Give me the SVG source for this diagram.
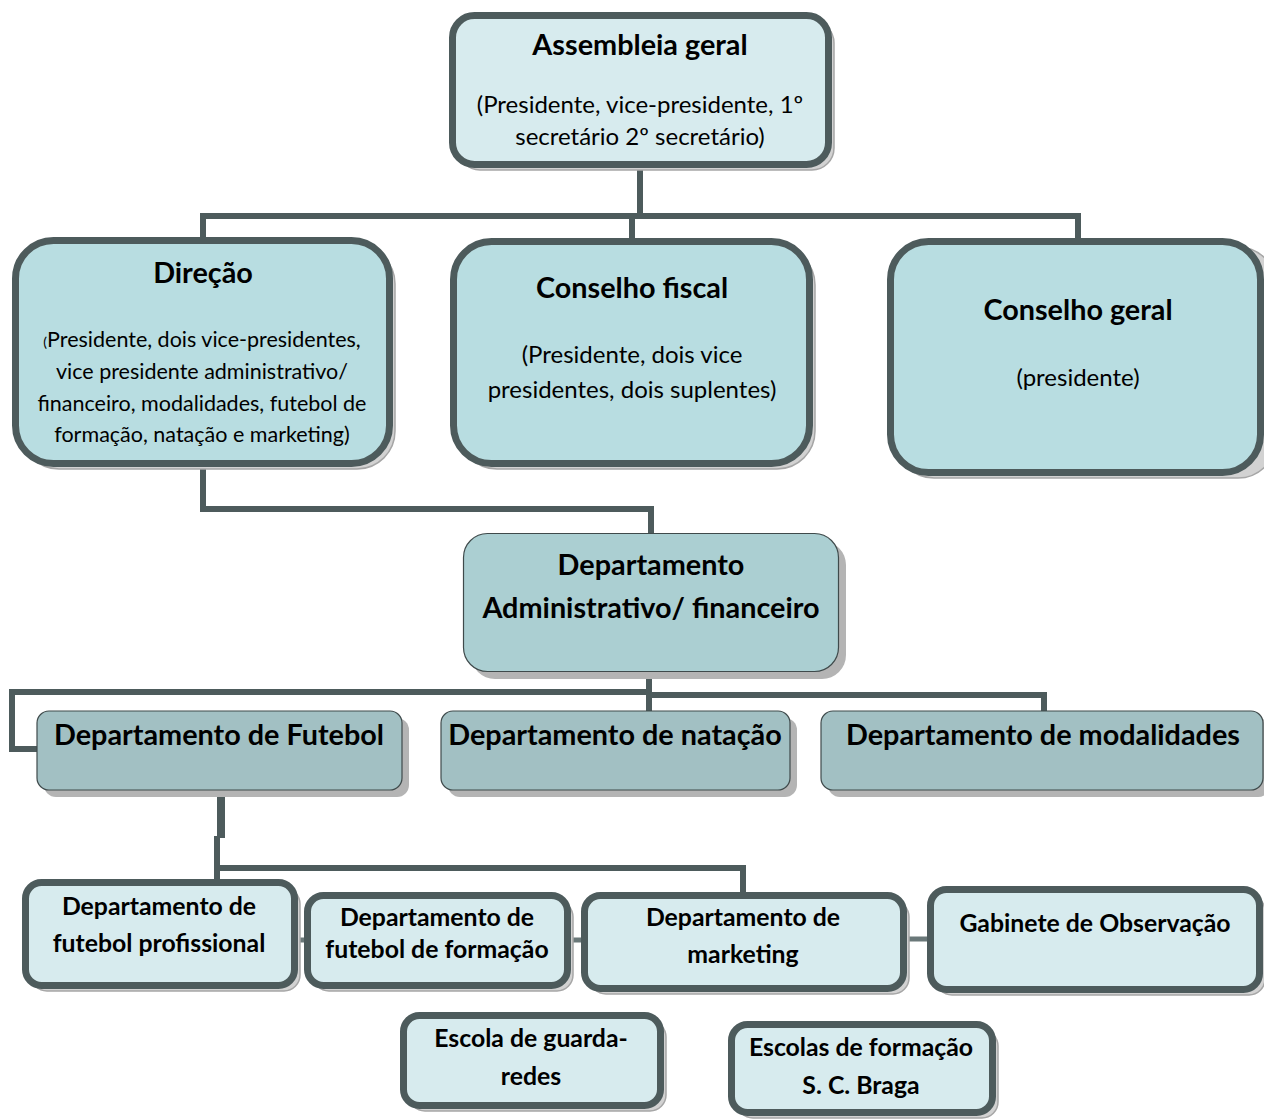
<svg xmlns="http://www.w3.org/2000/svg" width="1264" height="1120" viewBox="0 0 1264 1120">
<style>
text{font-family:Lato,"Liberation Sans",sans-serif;fill:#000;text-anchor:middle}
.t{font-weight:bold;font-size:28.8px}
.s{font-size:24px}
.sd{font-size:21.5px}
.b{font-weight:bold;font-size:24.8px}
.thick{stroke:#4d5b5c;stroke-width:7}
.sh{fill:#d2d2d2;stroke:#a6a6a6;stroke-width:1.5}
.sh2{fill:#b4b4b4;stroke:none}
.lt{fill:#d7ebee}
.md{fill:#b8dde1}
.ad{fill:#abcfd2;stroke:#3f4a4b;stroke-width:1.2}
.dp{fill:#a2c0c3;stroke:#3f4a4b;stroke-width:1.2}
.c{fill:none;stroke:#4d5b5c;stroke-width:6}
.cs{fill:none;stroke:#6a7879;stroke-width:5}
</style>
<rect width="1264" height="1120" fill="#fff"/>
<g id="connectors">
<path class="c" d="M640,168 V216 M203,240 V216 H1078 V240 M632,216 V240"/>
<path class="c" d="M203,467 V509 H651 V533"/>
<path class="c" d="M649,672 V711 M649,692 H12 V749 H37 M649,695 H1044 V711"/>
<path class="c" style="stroke-width:8" d="M221,790 V838"/>
<path class="c" d="M217,836 V880 M217,868 H743 V893"/>
<path class="cs" d="M298,940 H304 M571,940 H581 M907,939 H927"/>
</g>
<g id="assembleia">
<rect class="sh" x="458" y="21" width="376" height="149" rx="22"/>
<rect class="lt thick" x="452.5" y="15.5" width="376" height="149" rx="22"/>
<text class="t" x="640" y="55">Assembleia geral</text>
<text class="s" x="640" y="113">(Presidente, vice-presidente, 1º</text>
<text class="s" x="640" y="145">secretário 2º secretário)</text>
</g>
<g id="direcao">
<rect class="sh" x="21" y="246" width="374" height="223" rx="38"/>
<rect class="md thick" x="15.5" y="240.5" width="374" height="223" rx="38"/>
<text class="t" x="203" y="283">Direção</text>
<text class="sd" x="202" y="347"><tspan font-size="14">(</tspan>Presidente, dois vice-presidentes,</text>
<text class="sd" x="202" y="379">vice presidente administrativo/</text>
<text class="sd" x="202" y="411">financeiro, modalidades, futebol de</text>
<text class="sd" x="202" y="442">formação, natação e marketing)</text>
</g>
<g id="conselho-fiscal">
<rect class="sh" x="459" y="247" width="356" height="222" rx="38"/>
<rect class="md thick" x="453.5" y="241.5" width="356" height="222" rx="38"/>
<text class="t" x="632" y="298">Conselho fiscal</text>
<text class="s" x="632" y="363">(Presidente, dois vice</text>
<text class="s" x="632" y="398">presidentes, dois suplentes)</text>
</g>
<g id="conselho-geral">
<rect class="sh" x="896" y="247" width="380" height="231" rx="38"/>
<rect class="md thick" x="890.5" y="241.5" width="370" height="231" rx="38"/>
<text class="t" x="1078" y="320">Conselho geral</text>
<text class="s" x="1078" y="386">(presidente)</text>
</g>
<g id="dep-admin">
<rect class="sh2" x="471" y="541" width="375" height="138" rx="24"/>
<rect class="ad" x="463.5" y="533.5" width="375" height="138" rx="24"/>
<text class="t" x="651" y="575">Departamento</text>
<text class="t" x="651" y="618">Administrativo/ financeiro</text>
</g>
<g id="dep-futebol">
<rect class="sh2" x="44" y="718" width="365" height="79" rx="12"/>
<rect class="dp" x="37" y="711" width="365" height="79" rx="12"/>
<text class="t" x="219" y="745">Departamento de Futebol</text>
</g>
<g id="dep-natacao">
<rect class="sh2" x="448" y="718" width="349" height="79" rx="12"/>
<rect class="dp" x="441" y="711" width="349" height="79" rx="12"/>
<text class="t" x="615" y="745">Departamento de natação</text>
</g>
<g id="dep-modalidades">
<rect class="sh2" x="828" y="718" width="442" height="79" rx="12"/>
<rect class="dp" x="821" y="711" width="442" height="79" rx="12"/>
<text class="t" x="1043" y="745">Departamento de modalidades</text>
</g>
<g id="futebol-profissional">
<rect class="sh" x="31" y="888" width="269" height="103" rx="16"/>
<rect class="lt thick" x="25.5" y="882.5" width="269" height="103" rx="16"/>
<text class="b" x="159" y="915">Departamento de</text>
<text class="b" x="159" y="952">futebol profissional</text>
</g>
<g id="futebol-formacao">
<rect class="sh" x="313" y="901" width="260" height="90" rx="16"/>
<rect class="lt thick" x="307.5" y="895.5" width="260" height="90" rx="16"/>
<text class="b" x="437" y="926">Departamento de</text>
<text class="b" x="437" y="958">futebol de formação</text>
</g>
<g id="marketing">
<rect class="sh" x="590" y="901" width="319" height="93" rx="16"/>
<rect class="lt thick" x="584.5" y="895.5" width="319" height="93" rx="16"/>
<text class="b" x="743" y="926">Departamento de</text>
<text class="b" x="743" y="963">marketing</text>
</g>
<g id="gabinete">
<rect class="sh" x="936" y="895" width="329" height="100" rx="16"/>
<rect class="lt thick" x="930.5" y="889.5" width="329" height="100" rx="16"/>
<text class="b" x="1095" y="932">Gabinete de Observação</text>
</g>
<g id="escola-guarda-redes">
<rect class="sh" x="409" y="1021" width="257" height="90" rx="16"/>
<rect class="lt thick" x="403.5" y="1015.5" width="257" height="90" rx="16"/>
<text class="b" x="531" y="1047">Escola de guarda-</text>
<text class="b" x="531" y="1085">redes</text>
</g>
<g id="escolas-formacao">
<rect class="sh" x="737" y="1030" width="261" height="88" rx="16"/>
<rect class="lt thick" x="731.5" y="1024.5" width="261" height="88" rx="16"/>
<text class="b" x="861" y="1056">Escolas de formação</text>
<text class="b" x="861" y="1094">S. C. Braga</text>
</g>
</svg>
